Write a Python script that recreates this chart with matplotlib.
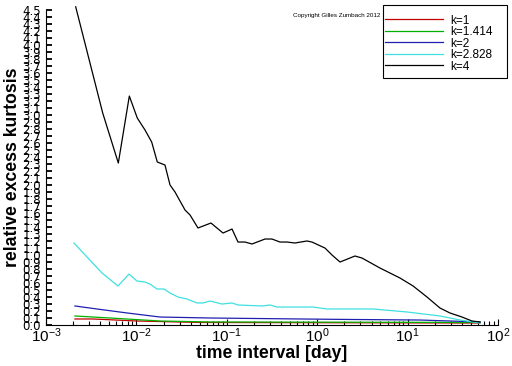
import numpy as np
import matplotlib
matplotlib.use("Agg")
import matplotlib.pyplot as plt
from matplotlib.ticker import LogLocator, NullFormatter
from matplotlib.patches import Rectangle

plt.rcParams['font.family'] = ['Liberation Sans', 'DejaVu Sans']
plt.rcParams['mathtext.fontset'] = 'custom'
plt.rcParams['mathtext.rm'] = 'Liberation Sans'
plt.rcParams['mathtext.it'] = 'Liberation Sans:italic'
plt.rcParams['mathtext.bf'] = 'Liberation Sans:bold'

# time interval in days, relative excess kurtosis
x_k4 = [0.00213, 0.00424, 0.00631, 0.00835, 0.01023, 0.01245, 0.01476, 0.01702,
        0.0207, 0.02355, 0.02673, 0.0345, 0.0392, 0.048, 0.0668, 0.0908, 0.1143,
        0.133, 0.1589, 0.1901, 0.2647, 0.3162, 0.3873, 0.4634, 0.5675, 0.771,
        0.875, 1.219, 1.459, 1.787, 2.618, 3.13, 4.95, 8.24, 11.5, 16.4, 22.8,
        29.4, 40.0, 51.5, 63.2]
y_k4 = [4.546, 3.026, 2.31, 3.269, 2.954, 2.783, 2.611, 2.325, 2.282, 1.996,
        1.896, 1.638, 1.567, 1.381, 1.452, 1.309, 1.366, 1.18, 1.18, 1.152,
        1.223, 1.223, 1.18, 1.18, 1.166, 1.195, 1.18, 1.094, 0.994, 0.894,
        0.98, 0.951, 0.808, 0.665, 0.551, 0.393, 0.236, 0.165, 0.107, 0.05, 0.036]

x_k2828 = [0.00204, 0.00284, 0.00416, 0.00626, 0.00828, 0.01015, 0.01245, 0.01413,
           0.0169, 0.0202, 0.02355, 0.02885, 0.0363, 0.0468, 0.0546, 0.0652,
           0.0885, 0.1143, 0.133, 0.245, 0.3006, 0.359, 0.899, 1.283, 2.306,
           4.14, 9.85, 22.8, 38.0, 63.2]
y_k2828 = [1.166, 0.966, 0.737, 0.551, 0.722, 0.622, 0.608, 0.579, 0.508, 0.508,
           0.451, 0.393, 0.365, 0.308, 0.308, 0.336, 0.293, 0.308, 0.279, 0.265,
           0.279, 0.25, 0.25, 0.222, 0.222, 0.222, 0.179, 0.122, 0.064, 0.021]

x_k2 = [0.00209, 0.00366, 0.00787, 0.01824, 0.0652, 0.6454, 2.306, 13.7, 63.2]
y_k2 = [0.265, 0.222, 0.165, 0.107, 0.093, 0.079, 0.072, 0.064, 0.036]

x_k1414 = [0.00209, 0.0051, 0.01824, 0.0652, 2.306, 63.2]
y_k1414 = [0.122, 0.093, 0.05, 0.036, 0.033, 0.029]

x_k1 = [0.00209, 0.00331, 0.01016, 0.0506, 63.2]
y_k1 = [0.079, 0.079, 0.05, 0.029, 0.021]

labels = ['k=1', 'k=1.414', 'k=2', 'k=2.828', 'k=4']
colors = ['#c00000', '#00b000', '#2020b0', '#40e0e0', 'black']

xtick_vals = [1e-3, 1e-2, 1e-1, 1e0, 1e1, 1e2]
xtick_labels = [r'$\mathregular{10^{-3}}$', r'$\mathregular{10^{-2}}$',
                r'$\mathregular{10^{-1}}$', r'$\mathregular{10^{0}}$',
                r'$\mathregular{10^{1}}$', r'$\mathregular{10^{2}}$']
ytick_vals = np.round(np.arange(0, 46) * 0.1, 1)

fig = plt.figure(figsize=(5.12, 3.66), dpi=100)
ax = fig.add_axes([46 / 512, 41.5 / 366, 452 / 512, 314.5 / 366])

series = [(x_k1, y_k1), (x_k1414, y_k1414), (x_k2, y_k2), (x_k2828, y_k2828), (x_k4, y_k4)]
handles = []
for (xs, ys), lab, col in zip(series, labels, colors):
    h, = ax.plot(xs, ys, color=col, lw=0.9, label=lab, clip_on=False)
    handles.append(h)

ax.set_xscale('log')
ax.set_xlim(1e-3, 1e2)
ax.set_ylim(0, 4.5)
ax.set_xticks(xtick_vals)
ax.set_xticklabels(xtick_labels, fontsize=11)
ax.xaxis.set_minor_locator(LogLocator(base=10, subs=np.arange(2, 10)))
ax.xaxis.set_minor_formatter(NullFormatter())
ax.set_yticks(ytick_vals)
ax.set_yticklabels(['%.1f' % v for v in ytick_vals], fontsize=8.5,
                   family='DejaVu Sans')

ax.tick_params(axis='x', which='major', direction='in', length=4.3, width=0.8, pad=1.5)
ax.tick_params(axis='x', which='minor', direction='in', length=2.9, width=0.8)
ax.tick_params(axis='y', direction='in', length=4.3, width=1.3, pad=3.6)
for s in ['top', 'right']:
    ax.spines[s].set_visible(False)
ax.spines['left'].set_linewidth(0.8)
ax.spines['bottom'].set_linewidth(0.8)

fig.text(12.5 / 512, 1 - 167 / 366, 'relative excess kurtosis', rotation=90,
         ha='center', va='center', fontsize=12.7, fontweight='bold')
fig.text(272 / 512, 1 - 354 / 366, 'time interval [day]',
         ha='center', va='center', fontsize=12.7, fontweight='bold')
fig.text(380 / 512, 1 - 15.3 / 366, 'Copyright Gilles Zumbach 2012',
         ha='right', va='center', fontsize=4.5)

# legend frame drawn separately so the padding can match the original
fig.patches.append(Rectangle((383 / 512, 1 - 78 / 366), 124 / 512, 73 / 366,
                             transform=fig.transFigure, facecolor='white',
                             edgecolor='black', lw=0.8, zorder=4))
leg = fig.legend(handles, labels, loc='upper left',
                 bbox_to_anchor=(385 / 512, 1 - 14.5 / 366),
                 bbox_transform=fig.transFigure, fontsize=8.5, frameon=False,
                 handlelength=4.9, handletextpad=0.65, labelspacing=-0.04,
                 borderpad=0, borderaxespad=0)
leg.set_zorder(5)

fig.savefig('out.png', dpi=100)
